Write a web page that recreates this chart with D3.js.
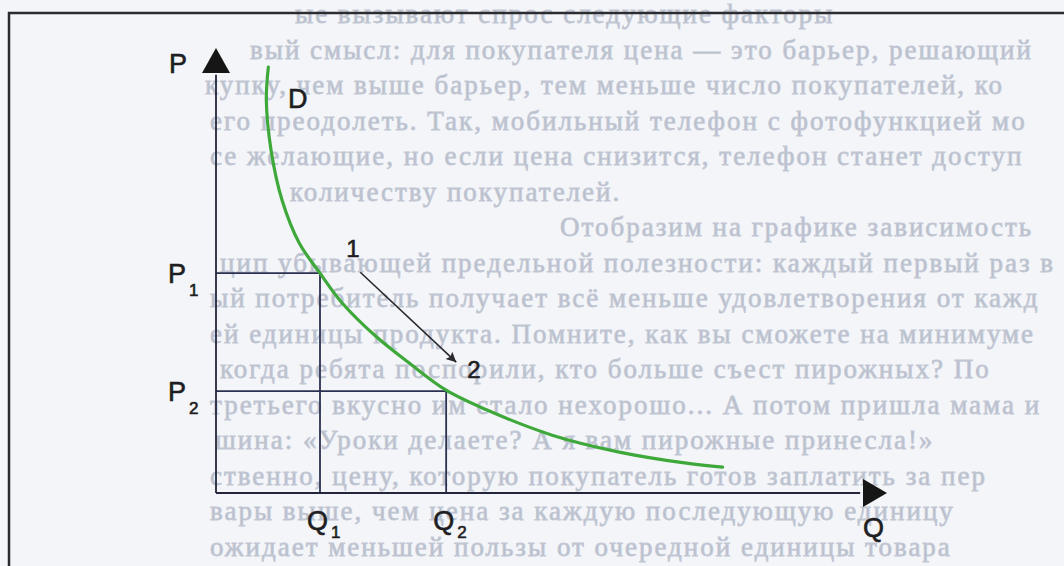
<!DOCTYPE html>
<meta charset="utf-8">
<head>
  <title>Demand curve</title>
  <script src="https://d3js.org/d3.v7.min.js"></script>
  <style>
    body { margin: 0; background: #f3f5f9; }
    svg { display: block; }
  </style>
</head>
<body>
<div id="display"></div>
<script>
  // demand curve D (Q, P in 0..100 axis units)
  var curveQ = [7.8, 7.5, 8.2, 9.85, 12.4, 15.5, 18.8, 23.9, 28.8, 34.3, 40.3, 50.1, 60.1, 70.1, 75.5];
  var curveP = [95.7, 88.3, 77.1, 65.8, 56.2, 49.4, 42.7, 35.1, 29.2, 23.1, 18.7, 13.0, 9.2, 6.7, 5.8];

  // the two marked points on the curve
  var pointNames = ["1", "2"];
  var pointQ = [15.5, 34.3];
  var pointP = [49.4, 22.9];

  // the move along the curve, from 1 to 2
  var moveQ = [21.5, 35.8];
  var moveP = [49.6, 29.4];

  // faint text showing through from the printed page underneath
  var bleedLines = [
    "ые вызывают спрос следующие факторы",
    "вый смысл: для покупателя цена — это барьер, решающий",
    "купку, чем выше барьер, тем меньше число покупателей, ко",
    "его преодолеть. Так, мобильный телефон с фотофункцией мо",
    "се желающие, но если цена снизится, телефон станет доступ",
    "количеству покупателей.",
    "Отобразим на графике зависимость",
    "цип убывающей предельной полезности: каждый первый раз в",
    "ый потребитель получает всё меньше удовлетворения от кажд",
    "ей единицы продукта. Помните, как вы сможете на минимуме",
    "когда ребята поспорили, кто больше съест пирожных? По",
    "третьего вкусно им стало нехорошо... А потом пришла мама и",
    "шина: «Уроки делаете? А я вам пирожные принесла!»",
    "ственно, цену, которую покупатель готов заплатить за пер",
    "вары выше, чем цена за каждую последующую единицу",
    "ожидает меньшей пользы от очередной единицы товара"
  ];
  var bleedIndent = [295, 250, 205, 210, 210, 290, 560, 220, 210, 210, 220, 210, 215, 210, 210, 210];

  var width = 1064, height = 566;

  var svg = d3.select("#display")
    .append("svg")
      .attr("width", width)
      .attr("height", height);

  svg.append("rect")
    .attr("width", width)
    .attr("height", height)
    .attr("fill", "#f3f5f9");

  // show-through text
  svg.append("g")
    .selectAll("text")
    .data(bleedLines)
    .enter()
    .append("text")
      .text(function(d) { return d; })
      .attr("x", function(d, i) { return bleedIndent[i]; })
      .attr("y", function(d, i) { return 23 + i * 35.5; })
      .style("font-family", "Liberation Serif")
      .style("font-size", "27px")
      .style("letter-spacing", "2px")
      .attr("fill", "#b9bfcc")
      .attr("stroke", "#c3c8d4")
      .attr("stroke-width", 0.8);

  // page frame
  svg.append("path")
    .attr("d", "M9,566 V13 H1064")
    .attr("fill", "none")
    .attr("stroke", "#2c2c30")
    .attr("stroke-width", 2.5);

  var x = d3.scaleLinear().domain([0, 100]).range([216, 887]);
  var y = d3.scaleLinear().domain([0, 100]).range([493, 48]);

  var ink = "#23263a";

  // guides to the axes
  var guides = svg.append("g")
    .attr("stroke", "#2b3150")
    .attr("stroke-width", 1.8)
    .attr("fill", "none");
  pointQ.forEach(function(q, i) {
    guides.append("line")
      .attr("x1", x(0)).attr("x2", x(q))
      .attr("y1", y(pointP[i])).attr("y2", y(pointP[i]));
    guides.append("line")
      .attr("x1", x(q)).attr("x2", x(q))
      .attr("y1", y(0)).attr("y2", y(pointP[i]));
  });

  // axes with arrow heads
  svg.append("line")
    .attr("x1", x(0)).attr("x2", x(0))
    .attr("y1", y(0)).attr("y2", y(94))
    .attr("stroke", ink).attr("stroke-width", 1.8);
  svg.append("line")
    .attr("x1", x(0)).attr("x2", x(96))
    .attr("y1", y(0)).attr("y2", y(0))
    .attr("stroke", ink).attr("stroke-width", 1.8);

  svg.append("path")
    .attr("d", "M" + x(0) + "," + y(100) + " L" + (x(0) - 14) + "," + (y(100) + 25) + " L" + (x(0) + 14) + "," + (y(100) + 25) + "Z")
    .attr("fill", "#161616");
  svg.append("path")
    .attr("d", "M" + x(100) + "," + y(0) + " L" + (x(100) - 24) + "," + (y(0) - 14) + " L" + (x(100) - 24) + "," + (y(0) + 14) + "Z")
    .attr("fill", "#161616");

  // demand curve
  var line = d3.line()
    .x(function(d) { return x(d[0]); })
    .y(function(d) { return y(d[1]); })
    .curve(d3.curveCatmullRom);

  svg.append("path")
    .datum(curveQ.map(function(q, i) { return [q, curveP[i]]; }))
    .attr("d", line)
    .attr("fill", "none")
    .attr("stroke", "#3fa83a")
    .attr("stroke-width", 3.2)
    .attr("stroke-linecap", "round");

  // arrow 1 -> 2
  svg.append("defs").append("marker")
    .attr("id", "head")
    .attr("viewBox", "0 0 10 10")
    .attr("refX", 10).attr("refY", 5)
    .attr("markerWidth", 14).attr("markerHeight", 10)
    .attr("markerUnits", "userSpaceOnUse")
    .attr("orient", "auto")
    .append("path")
      .attr("d", "M0,0 L10,5 L0,10 L2,5 Z")
      .attr("fill", "#2a2a2e");
  svg.append("line")
    .attr("x1", x(moveQ[0])).attr("y1", y(moveP[0]))
    .attr("x2", x(moveQ[1])).attr("y2", y(moveP[1]))
    .attr("stroke", "#2a2a2e")
    .attr("stroke-width", 1.6)
    .attr("marker-end", "url(#head)");

  // labels
  var labels = svg.append("g")
    .style("font-family", "Liberation Sans, Arial, sans-serif")
    .attr("fill", "#1e1e22")
    .attr("stroke", "#1e1e22")
    .attr("stroke-width", 0.6);

  function label(txt, sub, subDy, px, py, size) {
    var t = labels.append("text")
      .attr("x", px).attr("y", py)
      .style("font-size", size + "px")
      .text(txt);
    if (sub) {
      t.append("tspan")
        .attr("dx", 3).attr("dy", subDy)
        .style("font-size", "17px")
        .text(sub);
    }
  }

  label("P", null, 0, x(0) - 47, y(100) + 25, 27);
  label("Q", null, 0, x(100) - 24, y(0) + 44, 27);
  label("D", null, 0, 288, 108, 27);

  pointNames.forEach(function(n, i) {
    label("P", n, 13, x(0) - 48, y(pointP[i]) + 10, 27);
    label("Q", n, 8, x(pointQ[i]) - 13, y(0) + 37, 27);
  });

  label("1", null, 0, x(moveQ[0]) - 14, y(moveP[0]) - 15, 24);
  label("2", null, 0, x(moveQ[1]) + 11, y(moveP[1]) + 16, 24);
</script>
</body>
